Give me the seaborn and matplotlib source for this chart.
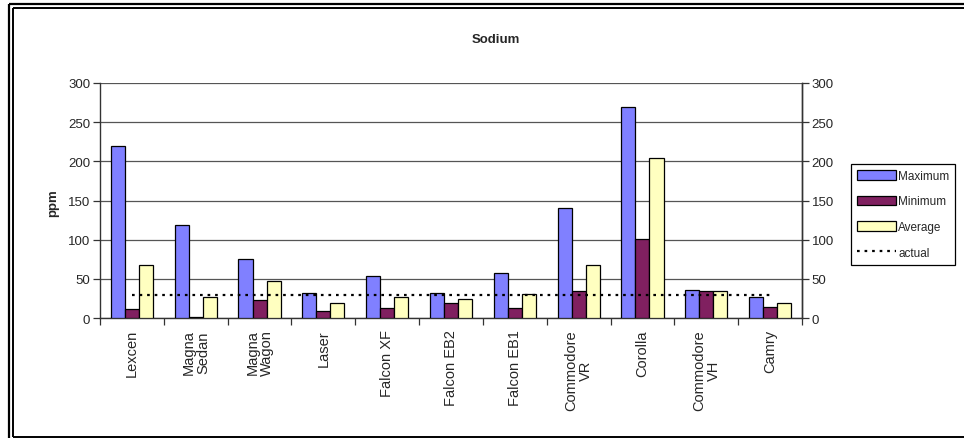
import numpy as np
import pandas as pd
import matplotlib
matplotlib.use("Agg")
import matplotlib.pyplot as plt
from matplotlib.lines import Line2D
from matplotlib.patches import Patch
import seaborn as sns

# Sodium readings per vehicle (ppm)
categories = ["Lexcen", "Magna\nSedan", "Magna\nWagon", "Laser", "Falcon XF",
              "Falcon EB2", "Falcon EB1", "Commodore\nVR", "Corolla",
              "Commodore\nVH", "Camry"]
maximum = [219, 119, 75, 32, 53, 32, 58, 140, 270, 36, 27]
minimum = [11, 1, 23, 9, 13, 19, 13, 34, 101, 34, 14]
average = [68, 27, 47, 19, 27, 24, 31, 68, 204, 34, 19]
actual = [29, 29, 29, 29, 29, 29, 29, 29, 29, 29, 29]
series_names = ["Maximum", "Minimum", "Average"]
y_ticks = [0, 50, 100, 150, 200, 250, 300]

colors = {"Maximum": "#8080FF", "Minimum": "#802060", "Average": "#FFFFC0"}

df = pd.DataFrame({
    "vehicle": categories * 3,
    "series": [s for s in series_names for _ in categories],
    "ppm": maximum + minimum + average,
})

sns.set_style("white")
plt.rcParams["font.family"] = ["Liberation Sans", "DejaVu Sans"]

W, H = 964, 439
fig = plt.figure(figsize=(W / 100, H / 100), dpi=100)
ax = fig.add_axes([100 / W, 1 - 319 / H, (802 - 100) / W, (319 - 84) / H])

sns.barplot(data=df, x="vehicle", y="ppm", hue="series", order=categories,
            hue_order=series_names, palette=colors, width=0.66,
            edgecolor="black", linewidth=0.9, saturation=1, ax=ax,
            legend=False, zorder=3)

sns.lineplot(x=np.arange(len(categories)), y=actual, ax=ax, color="black",
             linestyle=(0, (1.2, 2.2)), linewidth=1.6, zorder=4)

n = len(categories)
ax.set_xlim(-0.5, n - 0.5)
ax.set_ylim(0, 300)
ax.set_yticks(y_ticks)
ax.yaxis.grid(True, color="#555555", linewidth=0.9, zorder=0)
ax.xaxis.grid(False)
ax.set_axisbelow(True)

ax.set_xticks(np.arange(n))
ax.set_xticklabels(categories, rotation=90, ha="center", va="top",
                   multialignment="center", fontsize=10.5, linespacing=1.05)
ax.set_xticks(np.arange(n + 1) - 0.5, minor=True)
ax.tick_params(axis="x", which="major", length=0, pad=8)
ax.tick_params(axis="x", which="minor", length=5, width=0.9, color="#333333",
               direction="out", bottom=True)
ax.tick_params(axis="y", which="major", length=5, width=0.9, color="#333333",
               direction="out", labelsize=9.5, pad=2, left=True)
ax.set_xlabel("")
ax.set_ylabel("")

ax.spines["top"].set_visible(False)
for side in ("left", "bottom", "right"):
    ax.spines[side].set_color("#333333")
    ax.spines[side].set_linewidth(1.0)

ax2 = ax.twinx()
ax2.set_ylim(0, 300)
ax2.set_yticks(y_ticks)
ax2.tick_params(axis="y", length=5, width=0.9, color="#333333",
                direction="out", labelsize=9.5, pad=2, right=True)
for side in ("top", "left", "bottom"):
    ax2.spines[side].set_visible(False)
ax2.spines["right"].set_color("#333333")
ax2.spines["right"].set_linewidth(1.0)
ax2.grid(False)

fig.text(496 / W, 1 - 40 / H, "Sodium", ha="center", va="center",
         fontsize=9.5, fontweight="bold")
fig.text(53 / W, 1 - 203 / H, "ppm", ha="center", va="center",
         rotation=90, fontsize=9.5, fontweight="bold")

handles = [Patch(facecolor=colors[s], edgecolor="black", linewidth=0.9)
           for s in series_names]
handles.append(Line2D([0], [0], color="black", linestyle=(0, (1.2, 2.2)),
                      linewidth=1.6))
leg = fig.legend(handles, series_names + ["actual"],
                 loc="upper left", bbox_to_anchor=(851 / W, 1 - 165 / H),
                 fontsize=8.5, frameon=True, fancybox=False, framealpha=1,
                 edgecolor="black", handlelength=3.3, handleheight=0.9,
                 handletextpad=0.2, labelspacing=1.15, borderpad=0.5,
                 borderaxespad=0)
leg.get_frame().set_linewidth(0.9)

# double frame around the chart
def frame_line(xs, ys, lw):
    fig.add_artist(Line2D([x / W for x in xs], [1 - y / H for y in ys],
                          color="black", linewidth=lw,
                          transform=fig.transFigure, solid_capstyle="butt"))

frame_line([9, 964], [4.6, 4.6], 1.6)
frame_line([9, 9], [4.6, 439], 1.6)
frame_line([13, 964], [8.7, 8.7], 1.4)
frame_line([13, 13], [8.7, 437.6], 1.4)
frame_line([13, 964], [437.6, 437.6], 1.4)

fig.savefig("out.png", dpi=100)
